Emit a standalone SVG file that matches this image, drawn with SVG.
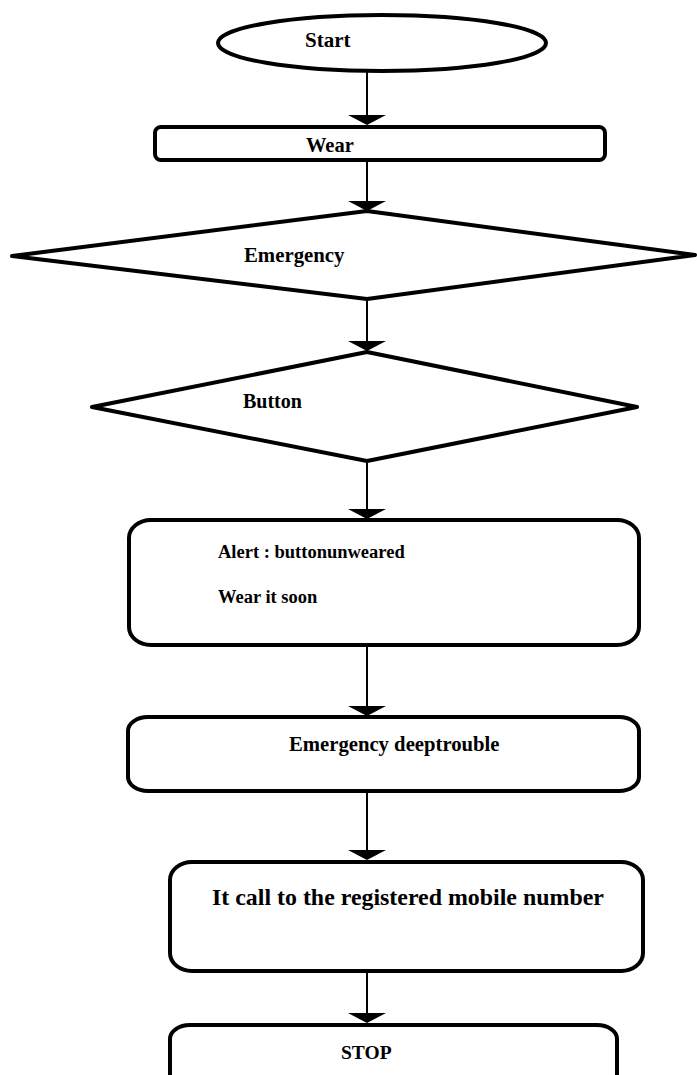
<svg xmlns="http://www.w3.org/2000/svg" width="697" height="1075" viewBox="0 0 697 1075">
<style>
.shape{fill:#fff;stroke:#000;stroke-width:4;stroke-linejoin:round}
.conn{stroke:#000;stroke-width:2;fill:none}
.head{fill:#000}
text{font-family:"Liberation Serif","Times New Roman",serif;font-weight:bold;fill:#000;font-size:20px}
</style>
<rect width="697" height="1075" fill="#fff"/>
<g id="connectors">
<line class="conn" x1="367" y1="72" x2="367" y2="116"/>
<path class="head" d="M348,115 L386,115 L367,125 Z"/>
<line class="conn" x1="367" y1="161" x2="367" y2="202"/>
<path class="head" d="M348,201 L386,201 L367,211 Z"/>
<line class="conn" x1="367" y1="299" x2="367" y2="342"/>
<path class="head" d="M348,341 L386,341 L367,351 Z"/>
<line class="conn" x1="367" y1="461" x2="367" y2="510"/>
<path class="head" d="M348,509 L386,509 L367,519 Z"/>
<line class="conn" x1="367" y1="645" x2="367" y2="707"/>
<path class="head" d="M348,706 L386,706 L367,716 Z"/>
<line class="conn" x1="367" y1="792" x2="367" y2="851"/>
<path class="head" d="M348,850 L386,850 L367,860 Z"/>
<line class="conn" x1="367" y1="971" x2="367" y2="1014"/>
<path class="head" d="M348,1013 L386,1013 L367,1023 Z"/>
</g>
<g id="start">
<ellipse class="shape" cx="382" cy="43" rx="164" ry="28"/>
<text x="305" y="47" style="font-size:21px">Start</text>
</g>
<g id="wear">
<rect class="shape" x="155" y="127" width="450" height="33" rx="6"/>
<text x="306" y="152" style="font-size:20.5px">Wear</text>
</g>
<g id="emergency">
<polygon class="shape" points="367,211 695,255 367,299 12,256"/>
<text x="244" y="262" style="font-size:20.8px">Emergency</text>
</g>
<g id="button">
<polygon class="shape" points="367,352 637,407 367,461 92,407"/>
<text x="243" y="408">Button</text>
</g>
<g id="alert">
<rect class="shape" x="129" y="520" width="510" height="125" rx="22" ry="18"/>
<text x="218" y="558" style="font-size:18.5px">Alert : buttonunweared</text>
<text x="218" y="603" style="font-size:18.5px">Wear it soon</text>
</g>
<g id="deeptrouble">
<rect class="shape" x="128" y="717" width="511" height="74" rx="20" ry="14"/>
<text x="289" y="751" style="font-size:20.7px">Emergency deeptrouble</text>
</g>
<g id="call">
<rect class="shape" x="170" y="862" width="473" height="109" rx="22" ry="18"/>
<text x="212" y="905" style="font-size:23.9px">It call to the registered mobile number</text>
</g>
<g id="stop">
<rect class="shape" x="170" y="1025" width="447" height="80" rx="20" ry="14"/>
<text x="341" y="1059" style="font-size:19.5px">STOP</text>
</g>
</svg>
